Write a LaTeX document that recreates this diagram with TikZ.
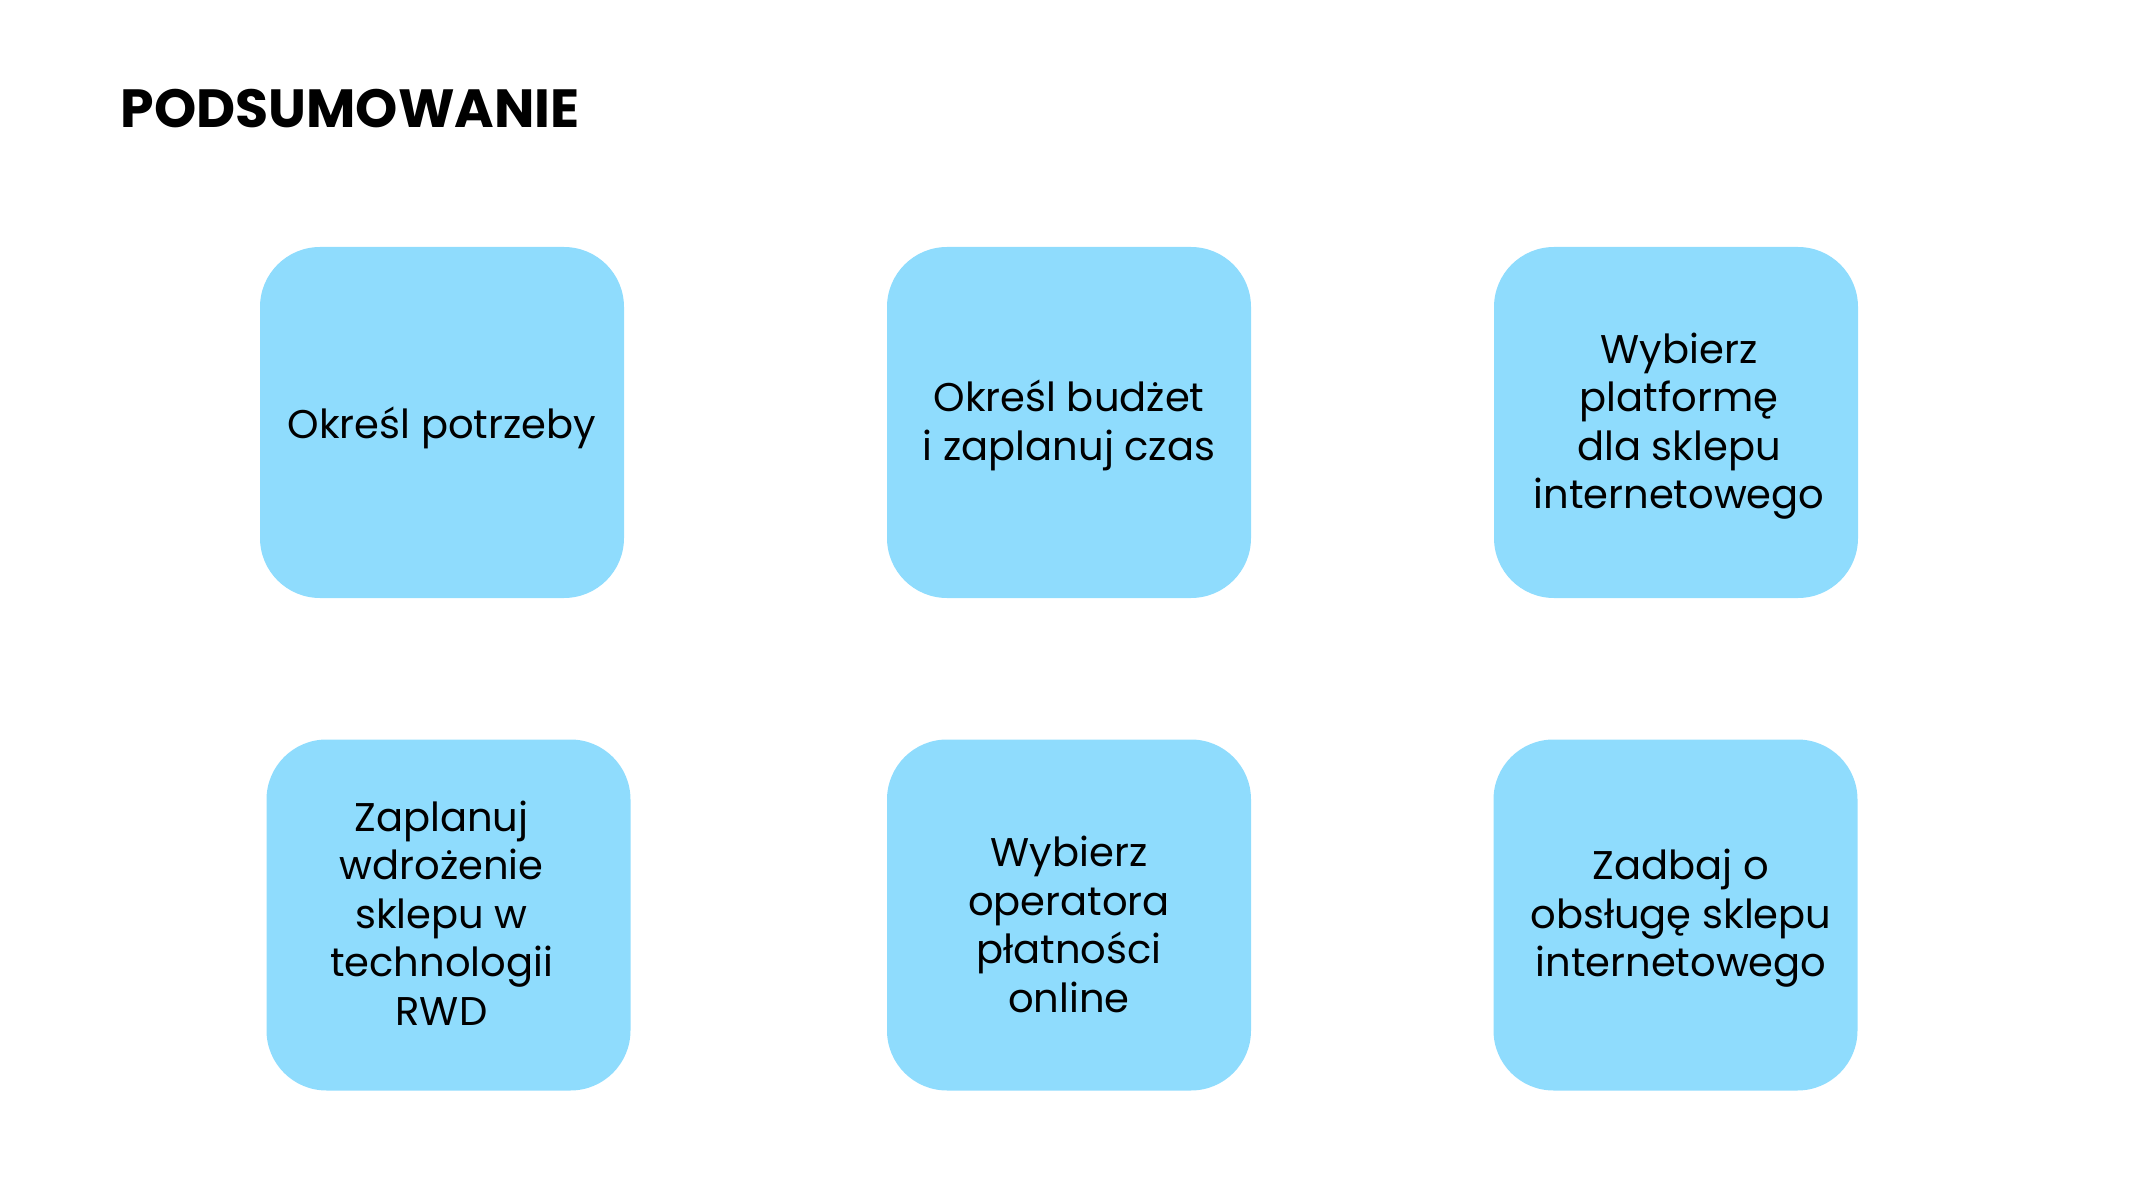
\documentclass[tikz,border=0pt]{standalone}
\usepackage{fontspec}
\setmainfont{Poppins}
\definecolor{tile}{HTML}{8FDCFD}
\tikzset{
  tilebox/.style={fill=tile,rounded corners=.6cm,minimum width=3.64cm,minimum height=3.51cm,inner sep=0pt},
  tiletext/.style={align=center,inner sep=0pt,font=\fontsize{11.4}{13.8}\selectfont},
}
\begin{document}
\begin{tikzpicture}
  \useasboundingbox (0,0) rectangle (21.38,-12.01);
  \node[anchor=base west,inner sep=0pt,font=\fontsize{15.3}{18}\selectfont\bfseries] (title) at (1.2,-1.28) {PODSUMOWANIE};
  \node[tilebox] (needs) at (4.42,-4.225) {};
  \node[tilebox] (budget) at (10.69,-4.225) {};
  \node[tilebox] (platform) at (16.76,-4.225) {};
  \node[tilebox] (rwd) at (4.485,-9.15) {};
  \node[tilebox] (payment) at (10.69,-9.15) {};
  \node[tilebox] (service) at (16.755,-9.15) {};
  \node[tiletext] (needs-t) at ([yshift=-.055cm]needs) {Określ potrzeby};
  \node[tiletext] (budget-t) at ([yshift=-.03cm]budget) {Określ budżet\\i zaplanuj czas};
  \node[tiletext] (platform-t) at ([shift={(.03,-.035)}]platform) {Wybierz\\platformę\\dla sklepu\\internetowego};
  \node[tiletext] (rwd-t) at ([shift={(-.07,.02)}]rwd) {Zaplanuj\\wdrożenie\\sklepu w\\technologii\\RWD};
  \node[tiletext] (payment-t) at ([yshift=-.095cm]payment) {Wybierz\\operatora\\płatności\\online};
  \node[tiletext] (service-t) at ([shift={(.055,-.035)}]service) {Zadbaj o\\obsługę sklepu\\internetowego};
\end{tikzpicture}
\end{document}
